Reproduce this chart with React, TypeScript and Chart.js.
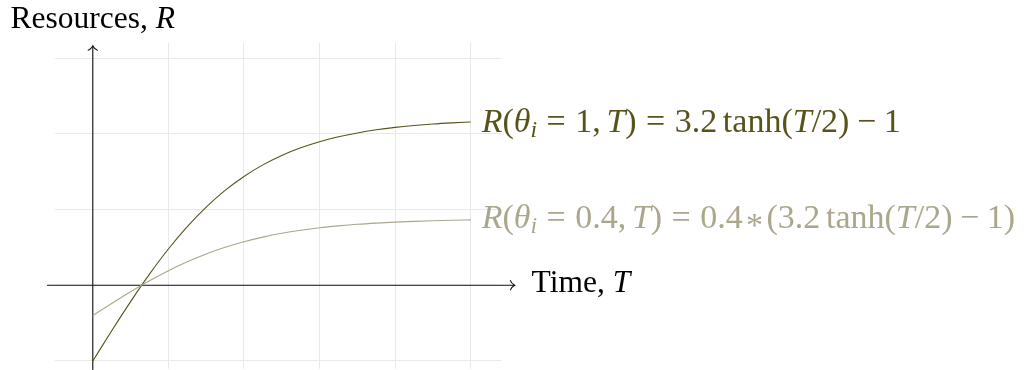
import React, { useEffect, useRef } from "react";
import { Chart, registerables } from "chart.js";

Chart.register(...registerables);

// Sample times and resource levels for the two curves
const timeT = [0, 0.25, 0.5, 0.75, 1, 1.25, 1.5, 1.75, 2, 2.25, 2.5, 2.75, 3, 3.25, 3.5, 3.75, 4, 4.25, 4.5, 4.75, 5];
const resourcesFull = [
  -1, -0.602, -0.216, 0.147, 0.479, 0.775, 1.032, 1.253, 1.437, 1.59, 1.715, 1.816, 1.896, 1.961, 2.012, 2.053,
  2.085, 2.11, 2.13, 2.145, 2.157,
];
const resourcesPartial = [
  -0.4, -0.241, -0.087, 0.059, 0.192, 0.31, 0.413, 0.501, 0.575, 0.636, 0.686, 0.726, 0.759, 0.784, 0.805, 0.821,
  0.834, 0.844, 0.852, 0.858, 0.863,
];

// Grid lines and window, plus axis extents, in data units
const gridTicksT = [0, 1, 2, 3, 4, 5];
const gridTicksR = [-1, 0, 1, 2, 3];
const gridRangeT = [-0.5, 5.4];
const gridRangeR = [-1.1, 3.2];
const axisRangeT = [-0.6, 5.58];
const axisRangeR = [-1.15, 3.16];

const DARK = "#57531b";
const LIGHT = "#aba78c";
const GRID = "#e9e9e9";
const FONT = '"Liberation Serif", "Times New Roman", serif';

type Seg = { t: string; it?: boolean; sub?: boolean; gap?: number; w?: number; dy?: number };

// TeX-like spacing, in em
const THIN = 3 / 18;
const MED = 4 / 18;
const THICK = 5 / 18;

const labelFull: Seg[] = [
  { t: "R", it: true },
  { t: "(" },
  { t: "θ", it: true },
  { t: "i", it: true, sub: true },
  { t: "=", gap: THICK },
  { t: "1", gap: THICK },
  { t: "," },
  { t: "T", it: true, gap: THIN },
  { t: ")" },
  { t: "=", gap: THICK },
  { t: "3.2", gap: THICK },
  { t: "tanh", gap: THIN },
  { t: "(" },
  { t: "T", it: true },
  { t: "/" },
  { t: "2" },
  { t: ")" },
  { t: "−", gap: MED },
  { t: "1", gap: MED },
];

const labelPartial: Seg[] = [
  { t: "R", it: true },
  { t: "(" },
  { t: "θ", it: true },
  { t: "i", it: true, sub: true },
  { t: "=", gap: THICK },
  { t: "0.4", gap: THICK },
  { t: "," },
  { t: "T", it: true, gap: THIN },
  { t: ")" },
  { t: "=", gap: THICK },
  { t: "0.4", gap: THICK },
  { t: "*", gap: 0.18, w: 0.34, dy: 0.24 },
  { t: "(", gap: 0.18 },
  { t: "3.2" },
  { t: "tanh", gap: THIN },
  { t: "(" },
  { t: "T", it: true },
  { t: "/" },
  { t: "2" },
  { t: ")" },
  { t: "−", gap: MED },
  { t: "1", gap: MED },
  { t: ")" },
];

const labelY: Seg[] = [{ t: "Resources, " }, { t: "R", it: true }];
const labelX: Seg[] = [{ t: "Time, " }, { t: "T", it: true }];

function setFont(ctx: CanvasRenderingContext2D, s: Seg, size: number) {
  const fs = s.sub ? size * 0.7 : size;
  ctx.font = `${s.it ? "italic " : ""}${fs}px ${FONT}`;
}

function measureSegs(ctx: CanvasRenderingContext2D, segs: Seg[], size: number) {
  let w = 0;
  for (const s of segs) {
    w += (s.gap ?? 0) * size;
    setFont(ctx, s, size);
    w += s.w != null ? s.w * size : ctx.measureText(s.t).width;
  }
  return w;
}

function drawSegs(
  ctx: CanvasRenderingContext2D,
  segs: Seg[],
  x: number,
  y: number,
  size: number,
  color: string
) {
  let cx = x;
  ctx.fillStyle = color;
  ctx.textBaseline = "alphabetic";
  for (const s of segs) {
    cx += (s.gap ?? 0) * size;
    setFont(ctx, s, size);
    const gw = ctx.measureText(s.t).width;
    const adv = s.w != null ? s.w * size : gw;
    const dy = (s.sub ? 0.16 : 0) * size + (s.dy ?? 0) * size;
    ctx.textAlign = "left";
    ctx.fillText(s.t, cx + (adv - gw) / 2, y + dy);
    cx += adv;
  }
}

function arrowHead(ctx: CanvasRenderingContext2D, tx: number, ty: number, dir: "right" | "up") {
  ctx.beginPath();
  if (dir === "right") {
    ctx.moveTo(tx - 4.2, ty - 4.6);
    ctx.bezierCurveTo(tx - 3.4, ty - 2.4, tx - 1.2, ty - 0.7, tx, ty);
    ctx.bezierCurveTo(tx - 1.2, ty + 0.7, tx - 3.4, ty + 2.4, tx - 4.2, ty + 4.6);
  } else {
    ctx.moveTo(tx - 4.6, ty + 4.2);
    ctx.bezierCurveTo(tx - 2.4, ty + 3.4, tx - 0.7, ty + 1.2, tx, ty);
    ctx.bezierCurveTo(tx + 0.7, ty + 1.2, tx + 2.4, ty + 3.4, tx + 4.6, ty + 4.2);
  }
  ctx.stroke();
}

const decorations = {
  id: "decorations",
  beforeDatasetsDraw(chart: any) {
    const { ctx, scales } = chart;
    const sx = scales.x;
    const sy = scales.y;
    const x0 = sx.getPixelForValue(0);
    const y0 = sy.getPixelForValue(0);
    const xa = sx.getPixelForValue(axisRangeT[0]);
    const xb = sx.getPixelForValue(axisRangeT[1]);
    const ya = sy.getPixelForValue(axisRangeR[0]);
    const yb = sy.getPixelForValue(axisRangeR[1]);
    ctx.save();
    ctx.strokeStyle = "#111";
    ctx.lineWidth = 1.1;
    ctx.lineCap = "round";
    ctx.beginPath();
    ctx.moveTo(xa, y0);
    ctx.lineTo(xb, y0);
    ctx.moveTo(x0, ya);
    ctx.lineTo(x0, yb);
    ctx.stroke();
    arrowHead(ctx, xb, y0, "right");
    arrowHead(ctx, x0, yb, "up");
    ctx.restore();
  },
  afterDatasetsDraw(chart: any) {
    const { ctx, scales } = chart;
    const sx = scales.x;
    const sy = scales.y;
    const last = timeT.length - 1;
    const xEnd = sx.getPixelForValue(timeT[last]);
    ctx.save();
    const mathSize = 34;
    drawSegs(ctx, labelFull, xEnd + 11, sy.getPixelForValue(resourcesFull[last]) + 10, mathSize, DARK);
    drawSegs(ctx, labelPartial, xEnd + 11, sy.getPixelForValue(resourcesPartial[last]) + 8, mathSize, LIGHT);

    const textSize = 31.5;
    const x0 = sx.getPixelForValue(0);
    const y0 = sy.getPixelForValue(0);
    const yTop = sy.getPixelForValue(axisRangeR[1]);
    const wY = measureSegs(ctx, labelY, textSize);
    drawSegs(ctx, labelY, x0 - wY / 2, yTop - 18, textSize, "#000");
    const xRight = sx.getPixelForValue(axisRangeT[1]);
    drawSegs(ctx, labelX, xRight + 17, y0 + 7, textSize, "#000");
    ctx.restore();
  },
};

export default function App() {
  const canvasRef = useRef<HTMLCanvasElement | null>(null);

  useEffect(() => {
    const canvas = canvasRef.current;
    if (!canvas) return;
    const chart = new Chart(canvas, {
      type: "line",
      data: {
        datasets: [
          {
            data: timeT.map((t, i) => ({ x: t, y: resourcesPartial[i] })),
            borderColor: LIGHT,
            borderWidth: 1.1,
            pointRadius: 0,
            cubicInterpolationMode: "monotone",
            fill: false,
          },
          {
            data: timeT.map((t, i) => ({ x: t, y: resourcesFull[i] })),
            borderColor: DARK,
            borderWidth: 1.1,
            pointRadius: 0,
            cubicInterpolationMode: "monotone",
            fill: false,
          },
        ],
      },
      options: {
        animation: false,
        responsive: false,
        devicePixelRatio: 1,
        layout: { padding: { left: 55, right: 524, top: 43, bottom: 1.5 } },
        plugins: { legend: { display: false }, tooltip: { enabled: false } },
        scales: {
          x: {
            type: "linear",
            min: gridRangeT[0],
            max: gridRangeT[1],
            ticks: { display: false },
            grid: { color: GRID, lineWidth: 1, drawTicks: false },
            border: { display: false },
            afterBuildTicks: (scale: any) => {
              scale.ticks = gridTicksT.map((v) => ({ value: v }));
            },
            afterFit: (scale: any) => {
              scale.height = 0;
            },
          },
          y: {
            type: "linear",
            min: gridRangeR[0],
            max: gridRangeR[1],
            ticks: { display: false },
            grid: { color: GRID, lineWidth: 1, drawTicks: false },
            border: { display: false },
            afterBuildTicks: (scale: any) => {
              scale.ticks = gridTicksR.map((v) => ({ value: v }));
            },
            afterFit: (scale: any) => {
              scale.width = 0;
            },
          },
        },
      },
      plugins: [decorations],
    });
    return () => chart.destroy();
  }, []);

  return (
    <div style={{ position: "fixed", left: 0, top: 0, width: 1025, height: 370, background: "#fff" }}>
      <canvas ref={canvasRef} width={1025} height={370} style={{ width: 1025, height: 370, display: "block" }} />
    </div>
  );
}
